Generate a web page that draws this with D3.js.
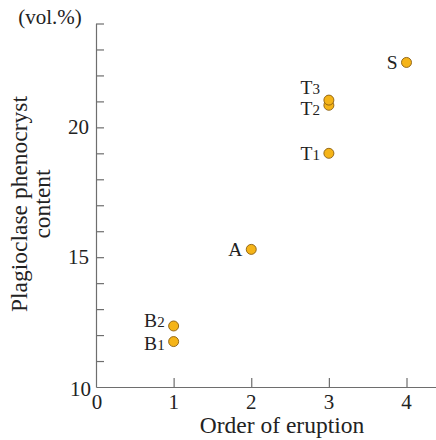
<!DOCTYPE html>
<html>
<head>
<meta charset="utf-8">
<script src="https://cdn.jsdelivr.net/npm/d3@7"></script>
<style>
  html, body { margin: 0; padding: 0; background: #fff; }
  svg text { font-family: "Liberation Serif", "Times New Roman", "DejaVu Serif", serif; }
</style>
</head>
<body>
<svg id="chart" width="436" height="440"></svg>
<script>
// Eruption units: name, subscript, order of eruption, plagioclase content (vol.%)
const unitNames = ["B", "B", "A", "T", "T", "T", "S"];
const unitSubs  = ["1", "2", "",  "1", "2", "3", ""];
const eruptionOrder = [1, 1, 2, 3, 3, 3, 4];
const plagContent   = [11.75, 12.35, 15.3, 19.0, 20.85, 21.05, 22.5];

const xTickValues = [0, 1, 2, 3, 4];
const yTickLabels = [10, 15, 20];

const svg = d3.select("#chart");
const axisColor = "#6e6e6e";
const textColor = "#222";
const serif = "'Liberation Serif', 'Times New Roman', serif";

const x = d3.scaleLinear().domain([0, 4.38]).range([96, 436]);
const y = d3.scaleLinear().domain([10, 24]).range([387, 23.5]);

// x axis with ticks pointing into the plot
const xAxis = svg.append("g")
  .attr("transform", `translate(0,${y(10)})`)
  .call(d3.axisBottom(x).tickValues(xTickValues.slice(1)).tickSizeInner(-9).tickSizeOuter(0).tickFormat(""));
xAxis.select(".domain").attr("stroke", axisColor).attr("stroke-width", 1.2);
xAxis.selectAll(".tick line").attr("stroke", axisColor).attr("stroke-width", 1.2);

svg.append("g").selectAll("text").data(xTickValues).join("text")
  .attr("x", d => d === 0 ? x(d) + 1 : x(d))
  .attr("y", y(10) + 22)
  .attr("text-anchor", "middle")
  .attr("font-family", serif)
  .attr("font-size", 21)
  .attr("fill", textColor)
  .text(d => d);

// y axis, minor ticks every unit
const yAxis = svg.append("g")
  .attr("transform", `translate(${x(0)},0)`)
  .call(d3.axisLeft(y).tickValues(d3.range(11, 25)).tickSizeInner(-8).tickSizeOuter(0).tickFormat(""));
yAxis.select(".domain").attr("stroke", axisColor).attr("stroke-width", 1.2);
yAxis.selectAll(".tick line").attr("stroke", axisColor).attr("stroke-width", 1.2);

svg.append("g").selectAll("text").data(yTickLabels).join("text")
  .attr("x", d => d === 10 ? x(0) - 5 : x(0) - 7)
  .attr("y", d => d === 10 ? y(d) + 9 : y(d) + 7)
  .attr("text-anchor", "end")
  .attr("font-family", serif)
  .attr("font-size", 21)
  .attr("fill", textColor)
  .text(d => d);

// axis titles
svg.append("text")
  .attr("x", 282)
  .attr("y", 433)
  .attr("text-anchor", "middle")
  .attr("font-family", serif)
  .attr("font-size", 23.5)
  .attr("fill", textColor)
  .text("Order of eruption");

const yTitle = svg.append("text")
  .attr("transform", "translate(27,204) rotate(-90)")
  .attr("text-anchor", "middle")
  .attr("font-family", serif)
  .attr("font-size", 23.5)
  .attr("fill", textColor);
yTitle.append("tspan").attr("x", 0).attr("dy", 0).text("Plagioclase phenocryst");
yTitle.append("tspan").attr("x", 0).attr("dy", 23).text("content");

svg.append("text")
  .attr("x", 50)
  .attr("y", 24)
  .attr("text-anchor", "middle")
  .attr("font-family", serif)
  .attr("font-size", 21)
  .attr("fill", textColor)
  .text("(vol.%)");

// data points
const pts = d3.range(unitNames.length).map(i => ({
  name: unitNames[i], sub: unitSubs[i], xv: eruptionOrder[i], yv: plagContent[i]
}));

svg.append("g").selectAll("circle").data(pts).join("circle")
  .attr("cx", d => x(d.xv))
  .attr("cy", d => y(d.yv))
  .attr("r", 5)
  .attr("fill", "#f5b418")
  .attr("stroke", "#8a5e10")
  .attr("stroke-width", 0.9);

// point labels; close pairs are pushed apart vertically
const labelDy = { "T3": -13, "T2": 3, "B2": -6, "B1": 1 };
const labels = svg.append("g").selectAll("text").data(pts).join("text")
  .attr("x", d => x(d.xv) - 9)
  .attr("y", d => y(d.yv) + 7 + (labelDy[d.name + d.sub] || 0))
  .attr("text-anchor", "end")
  .attr("font-family", serif)
  .attr("font-size", 19.5)
  .attr("fill", textColor);
labels.append("tspan").text(d => d.name);
labels.append("tspan").attr("font-size", 15).text(d => d.sub);
</script>
</body>
</html>
